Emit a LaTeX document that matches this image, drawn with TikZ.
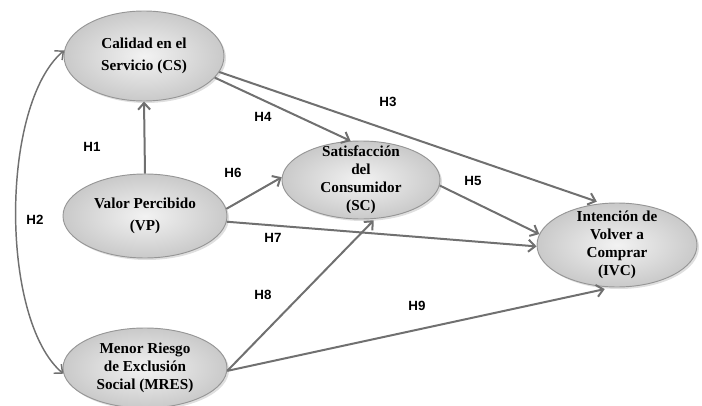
\documentclass[tikz,border=0pt]{standalone}
\usepackage{fontspec}
\setmainfont{Liberation Serif}
\newfontfamily\labelfont{Liberation Sans}
\usetikzlibrary{shapes.geometric,shadows,arrows.meta}
\definecolor{edgeGray}{RGB}{112,112,112}
\definecolor{rimGray}{RGB}{150,150,150}
\tikzstyle{construct}=[shape = ellipse, draw = rimGray, line width = 0.7pt, inner color = black!5, outer color = black!21, drop shadow = {shadow xshift = 1.5pt, shadow yshift = -1.5pt, opacity = 0.25}, align = center, font = \fontsize{11.4}{13.5}\selectfont\bfseries, inner xsep = 0pt, inner ysep = -8pt]
\tikzstyle{hypLabel}=[font = \labelfont\bfseries\fontsize{10}{12}\selectfont, inner sep = 0pt]
\tikzstyle{hypArrow}=[draw = edgeGray, line width = 1.5pt, -{Straight Barb[length = 5pt, width = 9pt]}]

\begin{document}
\begin{tikzpicture}[x = 0.75pt, y = -0.75pt]
\useasboundingbox (0,0) rectangle (702,406);
% constructs
\node[construct, minimum width = 120pt, minimum height = 67.5pt, font = \fontsize{11.4}{16}\selectfont\bfseries] (cs) at (144,56) {Calidad en el\\Servicio (CS)};
\node[construct, minimum width = 123pt, minimum height = 63pt, font = \fontsize{11.4}{16}\selectfont\bfseries] (vp) at (145,216) {Valor Percibido\\(VP)};
\node[construct, minimum width = 123pt, minimum height = 60pt] (mres) at (145,368) {Menor Riesgo\\de Exclusión\\Social (MRES)};
\node[construct, minimum width = 118.5pt, minimum height = 58.5pt] (sc) at (361,180) {Satisfacción\\del\\Consumidor\\(SC)};
\node[construct, minimum width = 120pt, minimum height = 63pt] (ivc) at (617,245) {Intención de\\Volver a\\Comprar\\(IVC)};
% hypotheses
\draw[hypArrow] (vp.north) -- (cs.south);
\draw[hypArrow, line width = 1.1pt, {Straight Barb[length = 5pt, width = 9pt]}-{Straight Barb[length = 5pt, width = 9pt]}] (mres.184) .. controls (0,320) and (0,105) .. (cs.176);
\draw[hypArrow, shorten > = 4pt] (cs.-12) -- (ivc.110);
\draw[hypArrow] (cs.-17) -- (sc.105);
\draw[hypArrow] (sc.-4) -- (ivc.172);
\draw[hypArrow] (vp.5) -- (sc.178);
\draw[hypArrow] (vp.-4) -- (ivc.181);
\draw[hypArrow, shorten > = 1.5pt] (mres.-2) -- (sc.-70);
\draw[hypArrow, shorten > = 6pt] (mres.-2) -- (ivc.264);
% labels
\node[hypLabel] (h1) at (92,147) {H1};
\node[hypLabel] (h2) at (35,220) {H2};
\node[hypLabel] (h3) at (388,102) {H3};
\node[hypLabel] (h4) at (263,117) {H4};
\node[hypLabel] (h5) at (473,181) {H5};
\node[hypLabel] (h6) at (233,173) {H6};
\node[hypLabel] (h7) at (273,238) {H7};
\node[hypLabel] (h8) at (263,295) {H8};
\node[hypLabel] (h9) at (417,306) {H9};
\end{tikzpicture}
\end{document}
